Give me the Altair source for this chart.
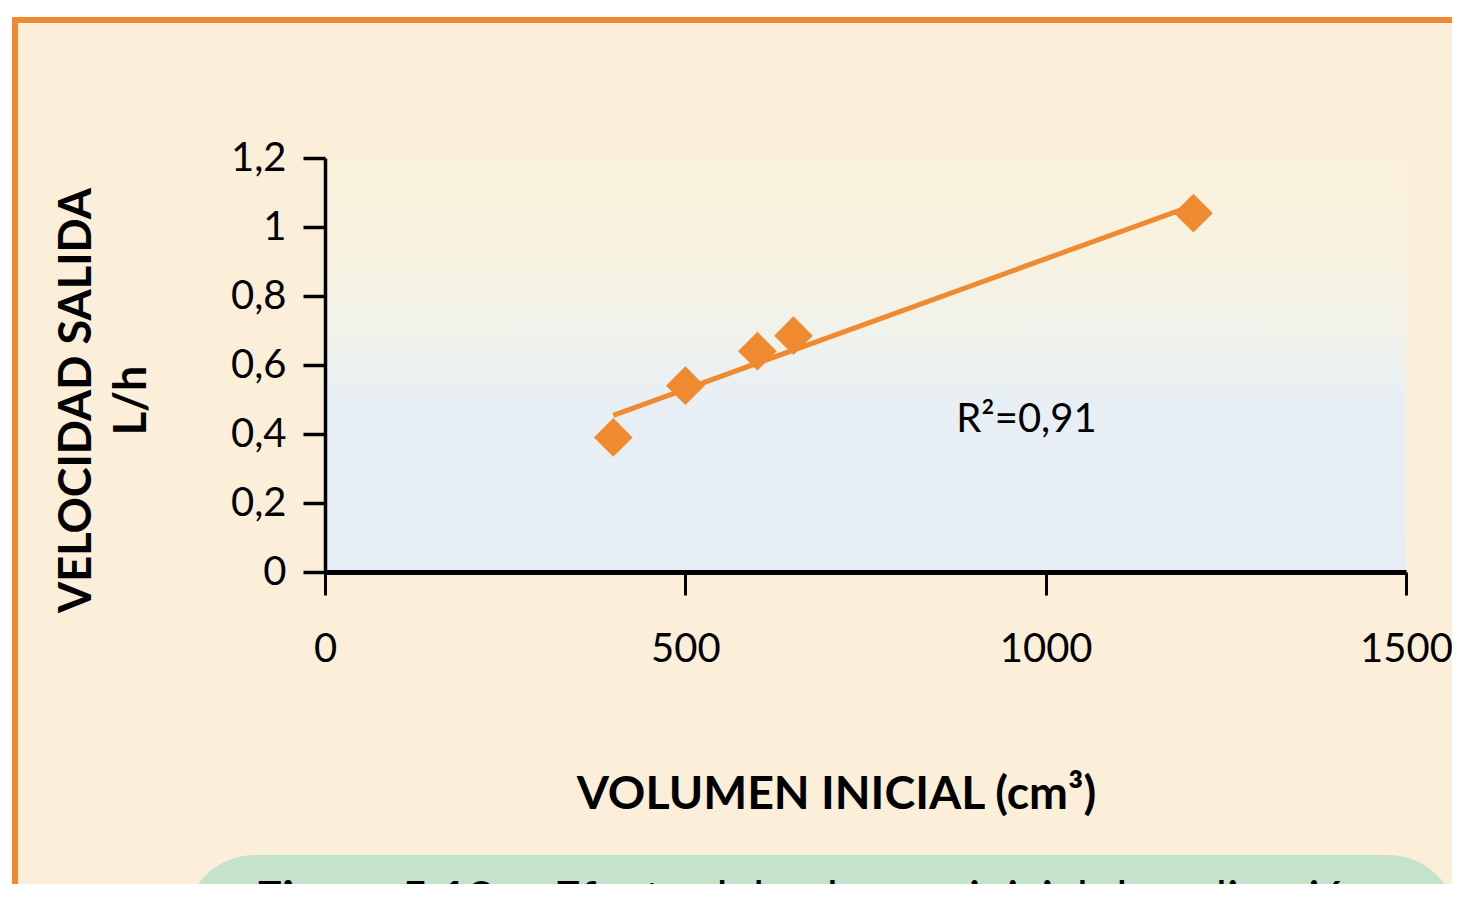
import altair as alt
import pandas as pd

# ---- data ----
volumen = [400, 500, 600, 650, 1205]          # cm3
velocidad = [0.39, 0.54, 0.64, 0.685, 1.04]   # L/h
x_ticks = [0, 500, 1000, 1500]
y_ticks = [0, 0.2, 0.4, 0.6, 0.8, 1.0, 1.2]
r2_label = "R\u00b2=0,91"
r2_pos_x = [876]
r2_pos_y = [0.406]
x_title = "VOLUMEN INICIAL (cm\u00b3)"
y_title = ["VELOCIDAD SALIDA", "L/h"]
caption_bold = "Figura 5.18"
caption_rest = "\u2013 Efecto del volumen inicial de aplicaci\u00f3n"

ORANGE = "#F08A30"
CREAM = "#FCEFD9"
GREEN = "#C5E3CB"
FONT = "Lato"

W, H = 1081, 414

df = pd.DataFrame({"vol": volumen, "vel": velocidad})
one = pd.DataFrame({"k": [0]})
r2df = pd.DataFrame({"x": r2_pos_x, "y": r2_pos_y, "t": [r2_label]})

xscale = alt.Scale(domain=[0, 1500], nice=False, zero=True)
yscale = alt.Scale(domain=[0, 1.2], nice=False, zero=True)

# decorative frame (cream panel with orange border)
frame = alt.Chart(one).mark_rect(
    fill=CREAM, stroke=ORANGE, strokeWidth=6
).encode(
    x=alt.value(-310), x2=alt.value(1300),
    y=alt.value(-138), y2=alt.value(900),
)

# green caption box
gbox = alt.Chart(one).mark_rect(
    fill=GREEN, cornerRadius=70
).encode(
    x=alt.value(-140), x2=alt.value(1133),
    y=alt.value(697), y2=alt.value(900),
)

cap1 = alt.Chart(one).mark_text(
    text=caption_bold, font=FONT, fontSize=48, fontWeight="bold",
    align="left", baseline="top", color="black"
).encode(x=alt.value(-70), y=alt.value(720))

cap2 = alt.Chart(one).mark_text(
    text=caption_rest, font=FONT, fontSize=48, fontWeight="normal",
    align="left", baseline="top", color="black"
).encode(x=alt.value(188), y=alt.value(720))

# plot-area gradient background
grad = alt.Chart(one).mark_rect(
    color=alt.LinearGradient(
        gradient="linear", x1=0, x2=0, y1=0, y2=1,
        stops=[
            alt.GradientStop(offset=0.0, color="#FBF2DB"),
            alt.GradientStop(offset=0.25, color="#F7F2E1"),
            alt.GradientStop(offset=0.45, color="#EFF2EC"),
            alt.GradientStop(offset=0.58, color="#E8EFF4"),
            alt.GradientStop(offset=1.0, color="#E6EDF5"),
        ],
    )
).encode(
    x=alt.value(0), x2=alt.value("width"),
    y=alt.value(0), y2=alt.value("height"),
)

xaxis = alt.Axis(
    values=x_ticks, title=x_title, grid=False, zindex=1, format="d",
    labelFont=FONT, labelFontSize=40, labelColor="black", labelPadding=34,
    labelFlush=False, labelOverlap=False,
    tickSize=23, tickWidth=3, tickColor="black",
    domainColor="black", domainWidth=5,
    titleFont=FONT, titleFontSize=46.5, titleFontWeight="bold", titleColor="black",
    titleX=511, titleY=236, titleAlign="center", titleBaseline="alphabetic",
)
yaxis = alt.Axis(
    values=y_ticks, title=y_title, grid=False, zindex=1,
    labelExpr="replace(format(datum.value, '.1~f'), '.', ',')",
    labelFont=FONT, labelFontSize=40, labelColor="black", labelPadding=17,
    labelFlush=False, labelOverlap=False,
    tickSize=22, tickWidth=3.5, tickColor="black",
    domainColor="black", domainWidth=3.5,
    titleFont=FONT, titleFontSize=45, titleFontWeight="bold", titleColor="black",
    titleAngle=270, titleX=-235, titleY=242, titleAlign="center",
    titleBaseline="alphabetic", titleLineHeight=55,
)

base = alt.Chart(df).encode(
    x=alt.X("vol:Q", scale=xscale, axis=xaxis),
    y=alt.Y("vel:Q", scale=yscale, axis=yaxis),
)

trend = alt.Chart(df).transform_regression("vol", "vel").mark_line(
    color=ORANGE, strokeWidth=5
).encode(
    x=alt.X("vol:Q", scale=xscale),
    y=alt.Y("vel:Q", scale=yscale),
)

points = base.mark_point(
    shape="diamond", filled=True, size=1500, color=ORANGE, opacity=1
)

r2 = alt.Chart(r2df).mark_text(
    font=FONT, fontSize=40, align="left", baseline="alphabetic", color="black"
).encode(
    x=alt.X("x:Q", scale=xscale),
    y=alt.Y("y:Q", scale=yscale),
    text="t:N",
)

chart = alt.layer(
    frame, gbox, cap1, cap2, grad, trend, points, r2
).properties(
    width=W, height=H,
    autosize=alt.AutoSizeParams(type="none"),
    padding={"left": 317, "top": 150, "right": 46, "bottom": 312},
).configure(
    background="white"
).configure_view(
    stroke=None
)

chart.save("out.html", embed_options={"renderer": "svg", "actions": False})
